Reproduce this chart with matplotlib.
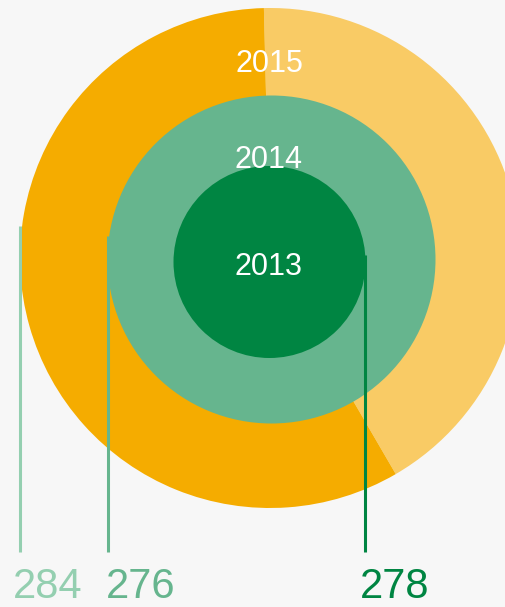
import matplotlib
matplotlib.use("Agg")
import matplotlib.pyplot as plt
from matplotlib.patches import Circle

# ---- data ----
years = ["2013", "2014", "2015"]
values = [278, 276, 284]
share_2015_light = [0.42, 0.58]   # light / dark portion of the 2015 ring

# ---- style ----
dark_green = "#008542"
mid_green = "#66B58E"
light_green = "#94CFB0"
orange = "#F5AC00"
light_orange = "#F9CB65"
bg = "#F7F7F7"

W, H = 506, 607
fig = plt.figure(figsize=(W / 100, H / 100), dpi=100, facecolor=bg)
ax = fig.add_axes([0, 0, 1, 1])

# outer ring (2015) via pie
ax.pie(share_2015_light, radius=250, center=(270, H - 258), startangle=91.4,
       counterclock=False, colors=[light_orange, orange],
       wedgeprops=dict(linewidth=0), frame=True)
ax.set_xlim(0, W)
ax.set_ylim(0, H)
ax.set_aspect("equal")
ax.axis("off")

ax.add_patch(Circle((271.5, H - 259.5), 164, color=mid_green, lw=0, zorder=3))
ax.add_patch(Circle((269.5, H - 262), 96, color=dark_green, lw=0, zorder=4))

font = ["Liberation Sans", "DejaVu Sans"]
for yr, ty in zip(years, [275, 168, 72]):
    ax.text(269, H - ty, yr, color="white", fontsize=22, family=font,
            ha="center", va="baseline", zorder=6)

# leader lines and value labels
line_x = [365, 108, 20]
line_top = [255, 236, 226]
line_col = [dark_green, mid_green, light_green]
label_x = [360, 106, 13]
for v, lx, lt, c, tx in zip(values, line_x, line_top, line_col, label_x):
    ax.plot([lx, lx], [H - lt, H - 552], color=c, lw=2.2, zorder=5,
            solid_capstyle="butt")
    ax.text(tx, H - 598, str(v), color=c, fontsize=30, family=font,
            ha="left", va="baseline", zorder=6)

fig.savefig("out.png", dpi=100, facecolor=bg)
